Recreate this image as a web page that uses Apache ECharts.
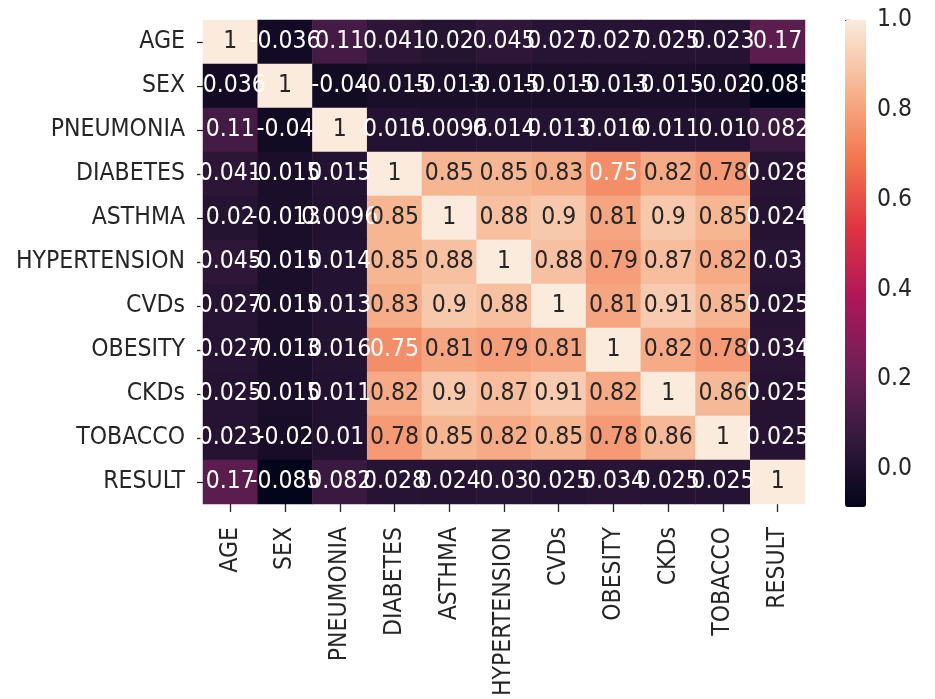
<!DOCTYPE html>
<html>
<head>
<meta charset="utf-8">
<script src="https://cdn.jsdelivr.net/npm/echarts@6/dist/echarts.min.js"></script>
<style>
  html, body { margin: 0; padding: 0; background: #ffffff; }
  #chart { width: 935px; height: 699px; }
</style>
</head>
<body>
<div id="chart"></div>
<script>
// Feature names (rows and columns of the correlation matrix)
const features = ['AGE', 'SEX', 'PNEUMONIA', 'DIABETES', 'ASTHMA', 'HYPERTENSION',
                  'CVDs', 'OBESITY', 'CKDs', 'TOBACCO', 'RESULT'];

// Pairwise correlation coefficients, one array per row
const rowAGE          = [1, -0.036, 0.11, 0.041, 0.02, 0.045, 0.027, 0.027, 0.025, 0.023, 0.17];
const rowSEX          = [-0.036, 1, -0.04, -0.015, -0.013, -0.015, -0.015, -0.013, -0.015, -0.02, -0.085];
const rowPNEUMONIA    = [0.11, -0.04, 1, 0.015, 0.0096, 0.014, 0.013, 0.016, 0.011, 0.01, 0.082];
const rowDIABETES     = [0.041, -0.015, 0.015, 1, 0.85, 0.85, 0.83, 0.75, 0.82, 0.78, 0.028];
const rowASTHMA       = [0.02, -0.013, 0.0096, 0.85, 1, 0.88, 0.9, 0.81, 0.9, 0.85, 0.024];
const rowHYPERTENSION = [0.045, -0.015, 0.014, 0.85, 0.88, 1, 0.88, 0.79, 0.87, 0.82, 0.03];
const rowCVDs         = [0.027, -0.015, 0.013, 0.83, 0.9, 0.88, 1, 0.81, 0.91, 0.85, 0.025];
const rowOBESITY      = [0.027, -0.013, 0.016, 0.75, 0.81, 0.79, 0.81, 1, 0.82, 0.78, 0.034];
const rowCKDs         = [0.025, -0.015, 0.011, 0.82, 0.9, 0.87, 0.91, 0.82, 1, 0.86, 0.025];
const rowTOBACCO      = [0.023, -0.02, 0.01, 0.78, 0.85, 0.82, 0.85, 0.78, 0.86, 1, 0.025];
const rowRESULT       = [0.17, -0.085, 0.082, 0.028, 0.024, 0.03, 0.025, 0.034, 0.025, 0.025, 1];

// Colour bar tick values
const colorbarTicks = [0, 0.2, 0.4, 0.6, 0.8, 1.0];

const matrix = [rowAGE, rowSEX, rowPNEUMONIA, rowDIABETES, rowASTHMA, rowHYPERTENSION,
                rowCVDs, rowOBESITY, rowCKDs, rowTOBACCO, rowRESULT];

// Colour scale limits follow the data range
const allValues = matrix.flat();
const vmin = Math.min.apply(null, allValues);
const vmax = Math.max.apply(null, allValues);

// "rocket" colour map stops
const rocket = ['#03051a', '#35193e', '#701f57', '#ad1759', '#e13342', '#f37651', '#f6b48f', '#faebdd'];

const FONT = 'DejaVu Sans Condensed, DejaVu Sans, sans-serif';
const FS = 24.5;
const TXT = '#262626';

const cells = [];
matrix.forEach((row, r) => {
  row.forEach((v, c) => {
    cells.push({
      value: [c, r, v],
      label: { color: v > 0.77 ? TXT : '#ffffff' }
    });
  });
});

const chart = echarts.init(document.getElementById('chart'), null, { renderer: 'canvas' });

chart.setOption({
  backgroundColor: '#ffffff',
  animation: false,
  grid: [
    { left: 203, right: 130, top: 20, bottom: 193, containLabel: false },
    { left: 845, width: 21, top: 20, bottom: 192, containLabel: false }
  ],
  xAxis: [
    {
      type: 'category',
      gridIndex: 0,
      data: features,
      position: 'bottom',
      axisLine: { show: false },
      axisTick: { show: true, length: 8, alignWithLabel: true, lineStyle: { color: TXT, width: 1.3 } },
      axisLabel: { rotate: 90, margin: 23, color: TXT, fontSize: FS, fontFamily: FONT, interval: 0 },
      splitLine: { show: false }
    },
    {
      type: 'value',
      gridIndex: 1,
      show: false,
      min: 0,
      max: 1
    }
  ],
  yAxis: [
    {
      type: 'category',
      gridIndex: 0,
      data: features,
      inverse: true,
      axisLine: { show: false },
      axisTick: { show: true, length: 6, alignWithLabel: true, lineStyle: { color: TXT, width: 1.3 } },
      axisLabel: { margin: 18, color: TXT, fontSize: FS, fontFamily: FONT, interval: 0 },
      splitLine: { show: false }
    },
    {
      type: 'value',
      gridIndex: 1,
      position: 'right',
      min: vmin,
      max: vmax,
      axisLine: { show: false },
      splitLine: { show: false },
      axisTick: { show: true, length: 6, customValues: colorbarTicks, lineStyle: { color: TXT, width: 1.3 } },
      axisLabel: {
        show: true, margin: 11, color: TXT, fontSize: FS, fontFamily: FONT,
        customValues: colorbarTicks,
        formatter: v => Number(v).toFixed(1)
      }
    }
  ],
  visualMap: {
    type: 'continuous',
    seriesIndex: 0,
    min: vmin,
    max: vmax,
    calculable: false,
    orient: 'vertical',
    left: 845,
    top: 20,
    itemWidth: 21,
    itemHeight: 487,
    padding: 0,
    text: ['', ''],
    textGap: 0,
    inRange: { color: rocket }
  },
  series: [
    {
      type: 'heatmap',
      xAxisIndex: 0,
      yAxisIndex: 0,
      data: cells,
      label: {
        show: true,
        fontSize: FS,
        fontFamily: FONT,
        formatter: p => String(p.value[2])
      },
      itemStyle: { borderWidth: 0 },
      emphasis: { disabled: true }
    },
    {
      type: 'scatter',
      xAxisIndex: 1,
      yAxisIndex: 1,
      data: [],
      silent: true
    }
  ]
});
</script>
</body>
</html>
